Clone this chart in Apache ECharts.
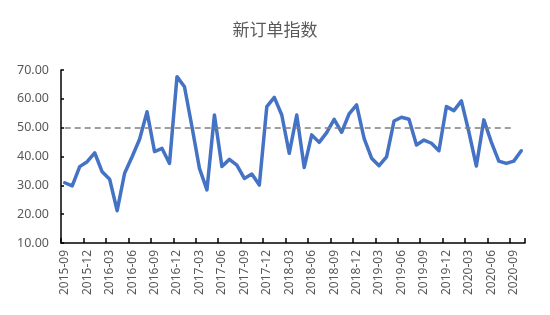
<!DOCTYPE html>
<html>
<head>
<meta charset="utf-8">
<script src="https://cdn.jsdelivr.net/npm/echarts@6/dist/echarts.min.js"></script>
<style>html,body{margin:0;padding:0;background:#fff;}#c{width:550px;height:315px;}</style>
</head>
<body>
<div id="c"></div>
<script>
var titleText = '新订单指数';
var categories = ['2015-09','2015-10','2015-11','2015-12','2016-01','2016-02','2016-03','2016-04','2016-05','2016-06','2016-07','2016-08','2016-09','2016-10','2016-11','2016-12','2017-01','2017-02','2017-03','2017-04','2017-05','2017-06','2017-07','2017-08','2017-09','2017-10','2017-11','2017-12','2018-01','2018-02','2018-03','2018-04','2018-05','2018-06','2018-07','2018-08','2018-09','2018-10','2018-11','2018-12','2019-01','2019-02','2019-03','2019-04','2019-05','2019-06','2019-07','2019-08','2019-09','2019-10','2019-11','2019-12','2020-01','2020-02','2020-03','2020-04','2020-05','2020-06','2020-07','2020-08','2020-09','2020-10'];
var values = [30.9,29.8,36.5,38.2,41.3,34.7,32.1,21.2,34.2,39.9,46.0,55.5,41.7,42.8,37.6,67.7,64.2,50.3,35.9,28.4,54.4,36.5,39.0,37.0,32.4,33.9,30.1,57.3,60.5,54.4,41.1,54.4,36.2,47.5,44.9,48.3,52.9,48.4,54.8,57.9,46.3,39.4,36.8,39.9,52.3,53.6,52.9,44.0,45.7,44.6,42.0,57.3,55.9,59.3,48.5,36.7,52.7,45.0,38.4,37.6,38.4,42.0];
var refValue = 50;
var refStart = '2015-09';
var refEnd = '2020-09';
var yTicks = [10, 20, 30, 40, 50, 60, 70];

var chart = echarts.init(document.getElementById('c'), null, {renderer: 'canvas'});
chart.setOption({
  animation: false,
  backgroundColor: '#ffffff',
  title: {
    text: titleText,
    left: 'center',
    top: 16,
    textStyle: {fontFamily: 'Noto Sans CJK SC', fontSize: 17, fontWeight: 'normal', color: '#595959'}
  },
  grid: {left: 61, right: 25, top: 70, bottom: 72, containLabel: false},
  xAxis: {
    type: 'category',
    data: categories,
    boundaryGap: true,
    axisLine: {show: true, lineStyle: {color: '#000000', width: 1.5}},
    axisTick: {show: true, inside: true, length: 5, interval: 2, alignWithLabel: false, lineStyle: {color: '#000000', width: 1.5}},
    axisLabel: {interval: 2, rotate: 90, margin: 7, fontFamily: 'Noto Sans', fontSize: 12, color: '#595959'},
    splitLine: {show: false}
  },
  yAxis: {
    type: 'value',
    min: yTicks[0],
    max: yTicks[yTicks.length - 1],
    interval: 10,
    axisLine: {show: true, lineStyle: {color: '#000000', width: 1.5}},
    axisTick: {show: true, inside: true, length: 3, lineStyle: {color: '#000000', width: 1.5}},
    axisLabel: {margin: 12, fontFamily: 'Noto Sans', fontSize: 12.5, color: '#595959', formatter: function (v) { return v.toFixed(2); }},
    splitLine: {show: false}
  },
  series: [{
    type: 'line',
    data: values,
    symbol: 'none',
    smooth: false,
    lineStyle: {color: '#4472C4', width: 3.5, cap: 'round', join: 'round'},
    itemStyle: {color: '#4472C4'},
    markLine: {
      silent: true,
      symbol: ['none', 'none'],
      label: {show: false},
      lineStyle: {color: '#7F7F7F', width: 1.5, type: [6, 4]},
      data: [[{coord: [refStart, refValue]}, {coord: [refEnd, refValue]}]]
    }
  }]
});
</script>
</body>
</html>
